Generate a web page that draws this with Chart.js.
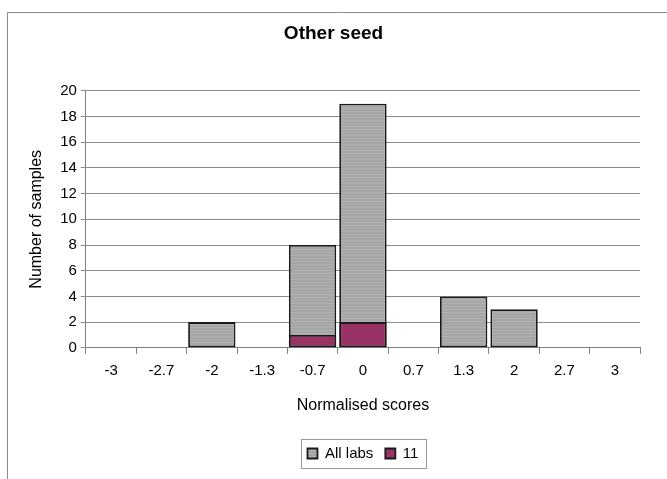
<!DOCTYPE html>
<html>
<head>
<meta charset="utf-8">
<script src="https://cdn.jsdelivr.net/npm/chart.js@4/dist/chart.umd.min.js"></script>
<style>
    html, body { margin: 0; padding: 0; background: #fff; }
</style>
</head>
<body>
<canvas id="grafico" width="667" height="479"></canvas>
<script>
// dados
var categorias = ['-3', '-2.7', '-2', '-1.3', '-0.7', '0', '0.7', '1.3', '2', '2.7', '3'];
var todosLabs = [null, null, 2, null, 8, 19, null, 4, 3, null, null];
var lab11 = [null, null, null, null, 1, 2, null, null, null, null, null];
var nomesSeries = ['All labs', '11'];
var tituloGrafico = 'Other seed';
var tituloX = 'Normalised scores';
var tituloY = 'Number of samples';

var fonte = "'Liberation Sans', Arial, sans-serif";

function listrado(base, linha) {
    var c = document.createElement('canvas');
    c.width = 4; c.height = 3;
    var g = c.getContext('2d');
    g.fillStyle = base;
    g.fillRect(0, 0, 4, 3);
    g.fillStyle = linha;
    g.fillRect(0, 0, 4, 1);
    return g.createPattern(c, 'repeat');
}

// moldura do grafico (recortada a direita e embaixo)
var moldura = {
    id: 'moldura',
    beforeDraw(chart) {
        var ctx = chart.ctx;
        ctx.save();
        ctx.fillStyle = '#fff';
        ctx.fillRect(0, 0, chart.width, chart.height);
        ctx.strokeStyle = '#8c8c8c';
        ctx.lineWidth = 1;
        ctx.beginPath();
        ctx.moveTo(7.5, chart.height);
        ctx.lineTo(7.5, 12.5);
        ctx.lineTo(chart.width, 12.5);
        ctx.stroke();
        ctx.restore();
    },
    afterDraw(chart) {
        // caixa em volta da legenda
        var caixas = chart.legend.legendHitBoxes;
        if (!caixas || !caixas.length) return;
        var esq = Infinity, dir = -Infinity, topo = Infinity, base = -Infinity;
        caixas.forEach(b => {
            esq = Math.min(esq, b.left);
            dir = Math.max(dir, b.left + b.width);
            topo = Math.min(topo, b.top);
            base = Math.max(base, b.top + b.height);
        });
        var ctx = chart.ctx;
        ctx.save();
        ctx.strokeStyle = '#9a9a9a';
        ctx.lineWidth = 1;
        ctx.strokeRect(Math.round(esq - 6) + 0.5, Math.round(topo - 7) + 0.5,
            Math.round(dir - esq + 14), Math.round(base - topo + 14));
        ctx.restore();
    }
};

var ctx = document.getElementById('grafico').getContext('2d');
var chart = new Chart(ctx, {
    type: 'bar',
    data: {
        labels: categorias,
        datasets: [
            {
                label: nomesSeries[0],
                data: todosLabs,
                backgroundColor: listrado('#a6a6a6', '#b0b0b0'),
                borderColor: '#1a1a1a',
                borderWidth: 1.8,
                borderSkipped: false,
                order: 1
            },
            {
                label: nomesSeries[1],
                data: lab11,
                backgroundColor: '#993366',
                borderColor: '#1a1a1a',
                borderWidth: 1.8,
                borderSkipped: false,
                order: 0
            }
        ]
    },
    options: {
        responsive: false,
        animation: false,
        barPercentage: 0.94,
        categoryPercentage: 1.0,
        layout: { padding: { left: 27, right: 27, top: 0, bottom: 8 } },
        plugins: {
            title: {
                display: true,
                text: tituloGrafico,
                color: '#000',
                font: { family: fonte, size: 19, weight: 'bold' },
                padding: { top: 22, bottom: 46 }
            },
            legend: {
                position: 'bottom',
                fullSize: false,
                labels: {
                    color: '#000',
                    font: { family: fonte, size: 15 },
                    boxWidth: 10,
                    boxHeight: 10,
                    padding: 12,
                    sort: (a, b) => a.datasetIndex - b.datasetIndex
                }
            },
            tooltip: { enabled: false }
        },
        scales: {
            x: {
                stacked: true,
                offset: true,
                grid: {
                    display: true,
                    offset: true,
                    drawOnChartArea: false,
                    color: '#808080',
                    tickLength: 6
                },
                border: { color: '#808080', width: 1 },
                ticks: {
                    color: '#000',
                    font: { family: fonte, size: 15 },
                    padding: 8,
                    maxRotation: 0,
                    autoSkip: false
                },
                title: {
                    display: true,
                    text: tituloX,
                    color: '#000',
                    font: { family: fonte, size: 16 },
                    padding: { top: 8, bottom: 19 }
                }
            },
            y: {
                stacked: false,
                min: 0,
                max: 20,
                grid: {
                    color: '#8c8c8c',
                    tickLength: 5
                },
                border: { color: '#808080', width: 1 },
                ticks: {
                    stepSize: 2,
                    color: '#000',
                    font: { family: fonte, size: 15 },
                    padding: 4
                },
                title: {
                    display: true,
                    text: tituloY,
                    color: '#000',
                    font: { family: fonte, size: 16 },
                    padding: { top: 0, bottom: 10 }
                }
            }
        }
    },
    plugins: [moldura]
});
</script>
</body>
</html>
